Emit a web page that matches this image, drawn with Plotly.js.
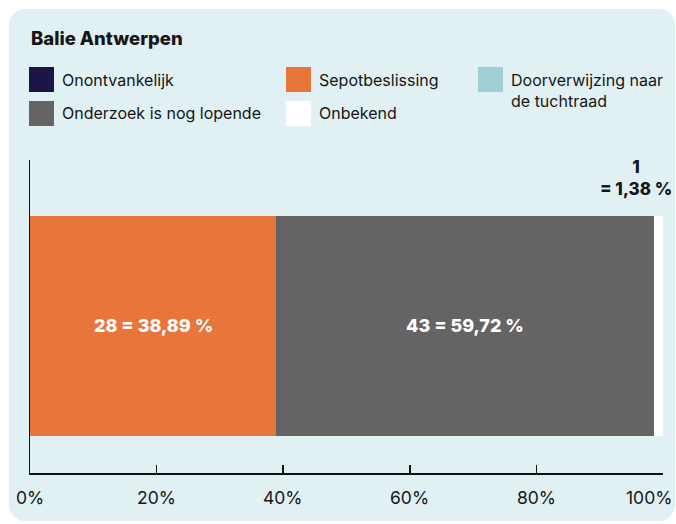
<!DOCTYPE html>
<html>
<head>
<meta charset="utf-8">
<script src="https://cdn.plot.ly/plotly-3.0.1.min.js"></script>
<style>
  html, body { margin: 0; padding: 0; background: #ffffff; width: 676px; height: 524px; overflow: hidden; }
  #panel { position: absolute; left: 9px; top: 9px; width: 666px; height: 512px; background: #e1f0f3; border-radius: 16px; }
  #chart { position: absolute; left: 0; top: 0; width: 676px; height: 524px; }
</style>
</head>
<body>
<div id="panel"></div>
<div id="chart"></div>
<script>
// ---- data ----
var chartTitle = 'Balie Antwerpen';
var categories = ['Onontvankelijk', 'Sepotbeslissing', 'Doorverwijzing naar de tuchtraad', 'Onderzoek is nog lopende', 'Onbekend'];
var legendLabels = ['Onontvankelijk', 'Sepotbeslissing', 'Doorverwijzing naar<br>de tuchtraad', 'Onderzoek is nog lopende', 'Onbekend'];
var counts = [0, 28, 0, 43, 1];
var percents = [0, 38.89, 0, 59.72, 1.38];
var colors = ['#1c1548', '#e8763b', '#9ecfd5', '#646464', '#ffffff'];
var tickVals = [0, 20, 40, 60, 80, 100];
var tickLabels = ['0%', '20%', '40%', '60%', '80%', '100%'];

// ---- layout helpers ----
var W = 676, H = 524;
var M = {l: 30, r: 13, t: 160, b: 51, pad: 0};
function px2x(px) { return (px - M.l) / (W - M.l - M.r); }
function py2y(py) { return (H - M.b - py) / (H - M.t - M.b); }
var FONT = 'Inter, "DejaVu Sans", sans-serif';
var TXT = '#161616';

function fmt(v) { return v.toFixed(2).replace('.', ','); }

var stackOrder = [0, 1, 2, 3, 4];
var traces = stackOrder.map(function (i) {
  return {
    type: 'bar', orientation: 'h',
    x: [percents[i]], y: [0], width: 0.8,
    name: categories[i],
    marker: {color: colors[i], line: {width: 0}},
    hoverinfo: 'none', showlegend: false
  };
});

var annotations = [];
var shapes = [];

// title
annotations.push({xref: 'paper', yref: 'paper', x: px2x(29), y: py2y(38), xanchor: 'left', yanchor: 'middle',
  text: chartTitle, showarrow: false, font: {family: FONT, size: 18.5, weight: 800, color: TXT}});

// custom legend (3 columns)
var colX = [29, 286, 478], rowY = [67, 101], sq = 25;
categories.forEach(function (c, i) {
  var col = i % 3, row = Math.floor(i / 3);
  var x0 = colX[col], y0 = rowY[row];
  shapes.push({type: 'rect', xref: 'paper', yref: 'paper',
    x0: px2x(x0), x1: px2x(x0 + sq), y0: py2y(y0), y1: py2y(y0 + sq),
    fillcolor: colors[i], line: {width: 0}});
  var multi = legendLabels[i].indexOf('<br>') >= 0;
  annotations.push({xref: 'paper', yref: 'paper', x: px2x(x0 + sq + 6), y: py2y(multi ? y0 + 1 : y0 + sq / 2),
    xanchor: 'left', yanchor: multi ? 'top' : 'middle', align: 'left',
    text: legendLabels[i], showarrow: false, font: {family: FONT, size: 16, color: TXT}});
});

// value labels
var cum = 0;
stackOrder.forEach(function (i) {
  var v = percents[i];
  if (counts[i] > 0) {
    var label = counts[i] + ' = ' + fmt(v) + ' %';
    if (v > 10) {
      annotations.push({xref: 'x', yref: 'y', x: cum + v / 2, y: 0, showarrow: false,
        text: label, font: {family: FONT, size: 18, weight: 800, color: '#ffffff'}});
    } else {
      annotations.push({xref: 'x', yref: 'paper', x: 100, xshift: 11, y: py2y(201), xanchor: 'right', yanchor: 'bottom',
        align: 'center', showarrow: false,
        text: counts[i] + '<br>= ' + fmt(v) + ' %', font: {family: FONT, size: 17, weight: 800, color: TXT}});
    }
  }
  cum += v;
});

// tick labels
tickVals.forEach(function (t, k) {
  var last = k === tickVals.length - 1;
  annotations.push({xref: 'x', yref: 'paper', x: t, xshift: last ? 11 : 0, y: py2y(497),
    xanchor: last ? 'right' : 'center', yanchor: 'middle', showarrow: false,
    text: tickLabels[k], font: {family: FONT, size: 17.5, color: TXT}});
});

var layout = {
  width: W, height: H, margin: M,
  paper_bgcolor: 'rgba(0,0,0,0)', plot_bgcolor: 'rgba(0,0,0,0)',
  barmode: 'stack', showlegend: false,
  xaxis: {range: [0, 100], tickvals: tickVals, showticklabels: false, ticks: 'inside', ticklen: 8,
    tickcolor: '#111', tickwidth: 1.5, showline: true, linecolor: '#111', linewidth: 1.5,
    showgrid: false, zeroline: false, fixedrange: true},
  yaxis: {range: [-0.535, 0.604], showticklabels: false, ticks: '', showline: true, linecolor: '#111',
    linewidth: 1.5, showgrid: false, zeroline: false, fixedrange: true},
  annotations: annotations, shapes: shapes,
  font: {family: FONT, color: TXT}
};

Plotly.newPlot('chart', traces, layout, {displayModeBar: false, staticPlot: true});
</script>
</body>
</html>
